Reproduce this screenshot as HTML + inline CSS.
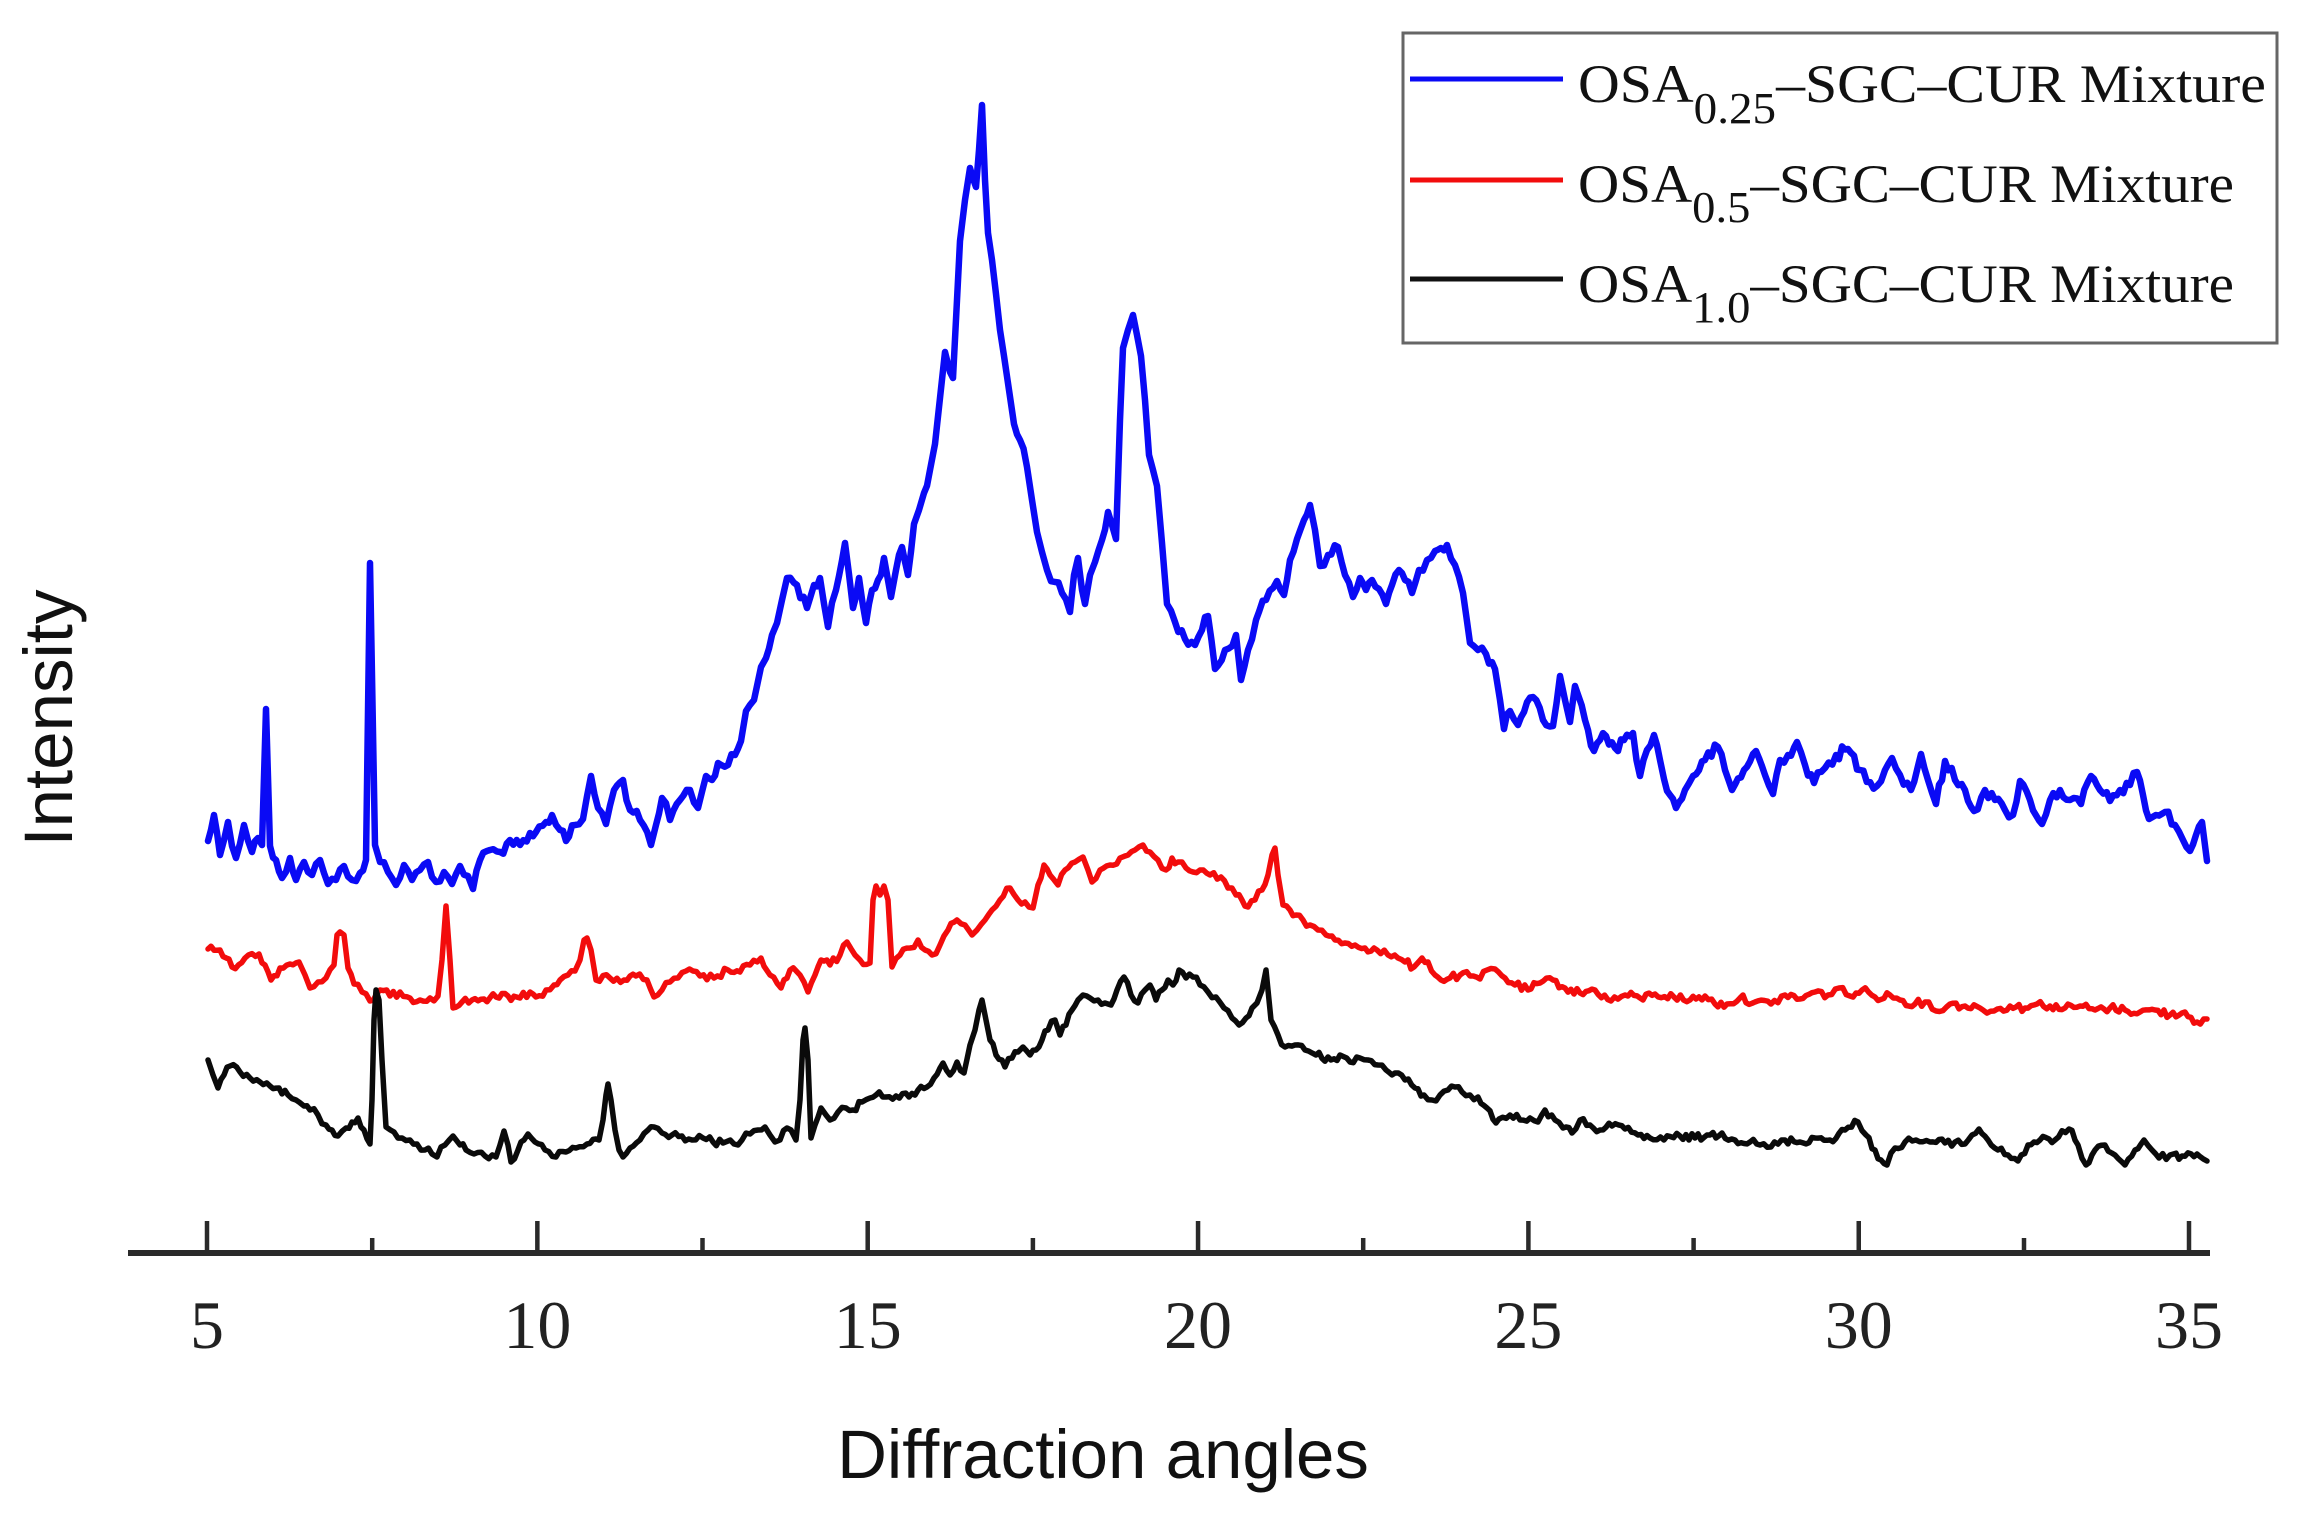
<!DOCTYPE html>
<html>
<head>
<meta charset="utf-8">
<style>
html,body{margin:0;padding:0;background:#fff;}
svg{display:block;}
</style>
</head>
<body>
<svg id="chart" width="2302" height="1518" viewBox="0 0 2302 1518" xmlns="http://www.w3.org/2000/svg">
<rect x="0" y="0" width="2302" height="1518" fill="#ffffff"/>

<!-- series -->
<polyline id="blue" fill="none" stroke="#0a0af5" stroke-width="6.5" stroke-linejoin="round" stroke-linecap="round" points="208,841 214,815 220,855 228,822 236,858 244,825 252,852 258,838 262,845 266,709 270,846 276,860 282,878 290,858 296,880 304,862 312,875 320,860 328,884 336,880 344,866 352,880 360,873 366,860 370,563 375,845 380,862 388,872 396,885 404,865 412,880 420,870 428,862 436,882 444,872 452,884 460,866 468,876 473,889 480,860 490,850 500,852 510,840 520,845 530,833 536,832 546,822 552,815 560,830 566,841 575,825 583,819 591,776 598,808 606,824 614,790 623,780 630,810 640,820 651,845 656,825 662,798 670,820 680,800 690,790 698,808 706,776 712,780 718,763 728,765 735,755 741,741 746,711 754,700 761,667 766,658 772,635 777,623 782,600 787,578 797,585 807,608 814,585 820,578 828,627 836,590 845,543 853,608 859,578 866,623 872,590 878,580 884,558 891,597 896,570 902,547 908,575 914,524 919,510 924,493 930,470 935,444 940,398 945,352 950,372 953,378 957,300 960,241 965,200 970,168 976,187 979,150 982,105 985,180 988,233 992,260 996,294 1000,330 1004,356 1009,390 1014,424 1020,440 1027,467 1032,500 1037,532 1042,552 1047,570 1055,582 1062,593 1070,612 1074,575 1078,558 1082,590 1085,604 1090,575 1095,562 1102,540 1108,512 1112,525 1116,539 1120,420 1123,348 1128,330 1133,315 1137,335 1141,356 1145,400 1149,455 1153,470 1157,486 1160,520 1162,543 1167,604 1175,622 1185,639 1195,645 1202,630 1208,616 1215,669 1225,650 1236,635 1241,680 1248,650 1256,620 1266,600 1277,581 1284,595 1290,560 1297,539 1304,520 1310,505 1315,530 1320,566 1328,555 1338,547 1345,575 1353,597 1360,578 1366,590 1372,580 1379,589 1386,604 1392,585 1399,570 1405,580 1412,593 1419,570 1427,560 1435,551 1441,548 1447,545 1455,565 1463,593 1470,643 1478,650 1486,654 1495,669 1500,700 1504,729 1510,711 1518,725 1524,712 1533,697 1543,720 1553,726 1560,676 1565,700 1570,722 1575,686 1585,720 1594,751 1600,740 1606,736 1615,748 1624,740 1633,733 1640,776 1647,750 1654,735 1660,760 1664,779 1670,795 1676,808 1685,790 1693,776 1705,760 1718,747 1725,770 1732,790 1744,770 1756,751 1765,775 1773,794 1780,760 1788,755 1797,742 1805,765 1814,783 1825,768 1836,755 1848,749 1860,770 1877,786 1885,770 1892,758 1900,775 1911,790 1921,754 1928,780 1936,804 1945,761 1955,780 1965,790 1974,811 1985,790 1995,800 2005,810 2013,815 2020,781 2030,800 2042,824 2050,800 2060,790 2070,800 2081,804 2091,776 2100,790 2110,801 2120,790 2130,785 2137,772 2143,795 2149,819 2156,815 2165,812 2175,825 2183,840 2190,851 2196,835 2202,822 2207,861"/>

<polyline id="red" fill="none" stroke="#f20c0c" stroke-width="5.5" stroke-linejoin="round" stroke-linecap="round" points="208,949 220,950 232,967 245,958 259,954 265,965 271,980 280,968 290,964 299,962 305,975 310,988 318,982 326,978 334,965 337,935 340,932 344,935 348,968 354,984 362,992 370,1001 380,990 390,996 400,992 410,998 420,1000 430,998 438,996 442,960 446,906 450,960 453,1008 462,1002 472,1000 484,999 496,997 508,996 520,998 530,992 536,997 546,990 554,985 560,980 568,975 575,971 580,960 584,940 587,938 591,950 596,980 610,978 624,980 636,976 647,980 654,997 662,990 670,982 678,978 686,971 700,976 714,978 728,970 740,972 750,965 761,958 770,975 781,988 790,970 800,975 808,992 815,975 821,960 830,965 840,955 847,942 855,955 860,960 870,963 873,900 876,886 880,895 884,886 888,900 892,967 900,955 910,948 918,940 925,950 932,955 940,945 948,930 957,920 965,925 972,935 977,930 985,920 992,910 1000,900 1010,888 1018,900 1025,902 1033,908 1038,885 1044,865 1050,875 1058,885 1065,870 1075,862 1083,857 1088,870 1092,882 1100,870 1110,865 1120,858 1128,855 1135,850 1143,845 1150,852 1158,860 1166,870 1172,858 1178,862 1186,868 1193,872 1200,870 1210,875 1221,877 1228,888 1236,895 1242,900 1248,907 1255,900 1262,890 1268,875 1272,855 1275,848 1278,875 1283,905 1290,910 1296,915 1303,920 1310,925 1318,930 1326,935 1335,940 1345,943 1355,945 1365,948 1377,950 1388,955 1398,958 1405,962 1414,967 1422,958 1428,962 1435,975 1441,980 1450,978 1460,975 1470,976 1480,979 1487,970 1495,969 1505,978 1515,985 1528,990 1540,983 1553,980 1565,988 1580,993 1595,990 1611,1001 1625,995 1640,998 1655,994 1674,997 1690,1000 1705,996 1715,1004 1727,1004 1740,998 1755,1002 1771,1004 1785,995 1800,999 1815,992 1828,995 1839,988 1850,996 1862,990 1875,997 1890,995 1900,1000 1915,1004 1925,1002 1936,1011 1950,1004 1965,1006 1980,1008 1994,1011 2010,1006 2025,1008 2037,1004 2050,1006 2065,1008 2080,1006 2095,1010 2110,1008 2125,1010 2140,1012 2155,1010 2170,1015 2185,1012 2197,1022 2207,1019"/>

<polyline id="black" fill="none" stroke="#0a0a0a" stroke-width="5.5" stroke-linejoin="round" stroke-linecap="round" points="208,1060 213,1075 218,1088 224,1075 230,1066 240,1072 250,1078 260,1082 270,1086 279,1088 288,1095 296,1100 304,1106 310,1110 318,1115 326,1125 332,1130 338,1136 346,1128 352,1122 358,1118 364,1130 370,1144 372,1100 374,1020 376,990 379,1000 382,1060 386,1127 394,1132 402,1138 410,1140 417,1144 425,1150 432,1154 437,1157 445,1145 453,1136 460,1145 466,1150 474,1154 485,1156 496,1157 500,1145 504,1131 508,1145 511,1162 518,1150 524,1140 528,1134 535,1142 545,1150 556,1157 566,1152 576,1148 587,1144 599,1140 603,1120 606,1095 608,1084 611,1100 615,1130 619,1150 623,1157 630,1148 640,1140 648,1130 654,1127 662,1133 672,1135 682,1136 692,1140 703,1138 713,1142 723,1143 734,1144 742,1140 750,1134 758,1130 765,1127 770,1135 775,1142 780,1140 787,1128 791,1130 796,1140 800,1100 803,1040 805,1028 808,1060 811,1138 815,1125 821,1108 826,1115 830,1120 838,1112 846,1108 853,1110 862,1102 870,1098 876,1095 886,1097 896,1096 909,1097 918,1090 927,1087 934,1078 940,1068 943,1063 950,1075 957,1062 964,1073 970,1045 975,1030 979,1010 982,1000 986,1020 990,1040 996,1055 1005,1067 1012,1058 1018,1052 1023,1047 1030,1055 1036,1050 1042,1040 1048,1030 1055,1020 1060,1035 1066,1025 1072,1010 1078,1000 1083,995 1090,998 1098,1000 1105,1003 1111,1005 1117,990 1124,977 1131,995 1138,1003 1145,990 1150,985 1156,1000 1162,990 1168,980 1173,985 1179,970 1186,978 1193,977 1200,985 1208,992 1216,997 1224,1008 1232,1018 1239,1025 1246,1018 1252,1008 1257,1003 1262,990 1266,970 1268,990 1271,1020 1278,1035 1285,1047 1295,1045 1305,1050 1316,1055 1331,1060 1340,1055 1350,1062 1360,1058 1368,1060 1378,1065 1386,1070 1395,1073 1405,1080 1415,1088 1424,1095 1432,1100 1440,1095 1448,1090 1455,1087 1462,1092 1470,1095 1478,1097 1487,1108 1496,1123 1499,1119 1510,1115 1520,1120 1530,1118 1538,1122 1545,1110 1555,1120 1563,1128 1572,1133 1580,1120 1590,1125 1600,1130 1612,1126 1625,1129 1638,1135 1650,1138 1664,1140 1680,1136 1695,1138 1710,1135 1722,1133 1735,1140 1750,1142 1760,1145 1771,1147 1785,1140 1800,1142 1815,1138 1830,1140 1845,1130 1858,1122 1866,1135 1875,1150 1881,1160 1887,1165 1895,1148 1905,1142 1916,1140 1930,1142 1945,1143 1955,1142 1965,1144 1972,1135 1979,1129 1988,1140 1998,1150 2008,1155 2018,1161 2028,1145 2040,1140 2055,1140 2069,1129 2078,1145 2086,1165 2095,1150 2105,1145 2115,1155 2125,1165 2135,1150 2144,1140 2152,1150 2159,1158 2170,1155 2182,1156 2197,1154 2207,1161"/>

<!-- x axis -->
<line x1="128" y1="1253" x2="2210" y2="1253" stroke="#2a2a2a" stroke-width="6"/>
<g stroke="#2a2a2a" stroke-width="4.5">
  <line x1="207" y1="1221" x2="207" y2="1253"/>
  <line x1="537.35" y1="1221" x2="537.35" y2="1253"/>
  <line x1="867.7" y1="1221" x2="867.7" y2="1253"/>
  <line x1="1198.05" y1="1221" x2="1198.05" y2="1253"/>
  <line x1="1528.4" y1="1221" x2="1528.4" y2="1253"/>
  <line x1="1858.75" y1="1221" x2="1858.75" y2="1253"/>
  <line x1="2189" y1="1221" x2="2189" y2="1253"/>
  <line x1="372.2" y1="1238" x2="372.2" y2="1253"/>
  <line x1="702.5" y1="1238" x2="702.5" y2="1253"/>
  <line x1="1032.9" y1="1238" x2="1032.9" y2="1253"/>
  <line x1="1363.2" y1="1238" x2="1363.2" y2="1253"/>
  <line x1="1693.6" y1="1238" x2="1693.6" y2="1253"/>
  <line x1="2024" y1="1238" x2="2024" y2="1253"/>
</g>
<g font-family="'Liberation Serif','Times New Roman',serif" font-size="68" fill="#222" text-anchor="middle">
  <text x="207" y="1348">5</text>
  <text x="537.35" y="1348">10</text>
  <text x="867.7" y="1348">15</text>
  <text x="1198.05" y="1348">20</text>
  <text x="1528.4" y="1348">25</text>
  <text x="1858.75" y="1348">30</text>
  <text x="2189" y="1348">35</text>
</g>

<text x="1103" y="1478" font-family="'Liberation Sans',Arial,sans-serif" font-size="69" fill="#111" text-anchor="middle">Diffraction angles</text>
<text transform="translate(72,718) rotate(-90)" x="0" y="0" font-family="'Liberation Sans',Arial,sans-serif" font-size="69" fill="#111" text-anchor="middle">Intensity</text>

<!-- legend -->
<rect x="1403" y="33" width="874" height="310" fill="#fff" stroke="#666" stroke-width="3"/>
<line x1="1410" y1="79" x2="1563" y2="79" stroke="#0a0af5" stroke-width="5"/>
<line x1="1410" y1="180" x2="1563" y2="180" stroke="#f20c0c" stroke-width="5"/>
<line x1="1410" y1="279" x2="1563" y2="279" stroke="#111" stroke-width="5"/>
<g font-family="'Liberation Serif','Times New Roman',serif" fill="#111">
  <text x="1578" y="102" font-size="54" textLength="688" lengthAdjust="spacingAndGlyphs">OSA<tspan font-size="44" dy="21">0.25</tspan><tspan dy="-21">–SGC–CUR Mixture</tspan></text>
  <text x="1578" y="202" font-size="54" textLength="656" lengthAdjust="spacingAndGlyphs">OSA<tspan font-size="44" dy="20">0.5</tspan><tspan dy="-20">–SGC–CUR Mixture</tspan></text>
  <text x="1578" y="302" font-size="54" textLength="656" lengthAdjust="spacingAndGlyphs">OSA<tspan font-size="44" dy="20">1.0</tspan><tspan dy="-20">–SGC–CUR Mixture</tspan></text>
</g>
</svg>
<script>
(function(){
  var seed = 12345;
  function rnd(){ seed = (seed * 1103515245 + 12345) % 2147483648; return seed / 2147483648; }
  function roughen(id, amp, step){
    var el = document.getElementById(id);
    var raw = el.getAttribute('points').trim().split(/\s+/).map(function(p){var a=p.split(',');return [parseFloat(a[0]),parseFloat(a[1])];});
    var out = [];
    for (var i=0;i<raw.length-1;i++){
      var a = raw[i], b = raw[i+1];
      out.push(a);
      var dx = b[0]-a[0];
      var n = Math.floor(dx/step);
      for (var k=1;k<n;k++){
        var t = k/n;
        var x = a[0]+dx*t, y = a[1]+(b[1]-a[1])*t + (rnd()*2-1)*amp;
        out.push([x,y]);
      }
    }
    out.push(raw[raw.length-1]);
    el.setAttribute('points', out.map(function(p){return p[0].toFixed(1)+','+p[1].toFixed(1);}).join(' '));
  }
  roughen('blue', 6, 3);
  roughen('red', 4, 3);
  roughen('black', 4, 3);
})();
</script>
</body>
</html>
